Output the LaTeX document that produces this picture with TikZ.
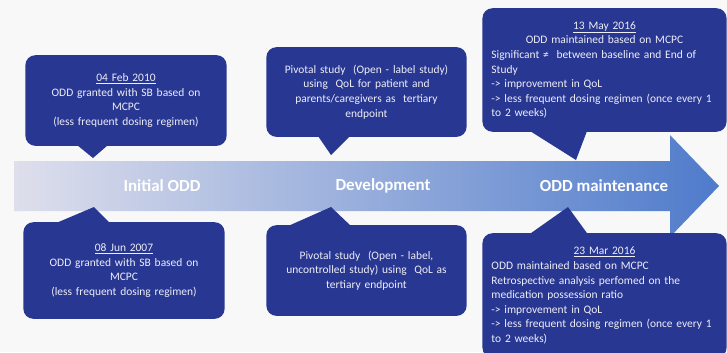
\documentclass[tikz,border=0pt]{standalone}
\usepackage{fontspec}
\setmainfont{Carlito}
\definecolor{pagebg}{HTML}{F8F8F8}
\definecolor{callblue}{HTML}{283792}
\definecolor{calltext}{HTML}{EEEEF6}
\definecolor{arrL}{HTML}{DEDFEC}
\definecolor{arrM}{HTML}{A7B1D8}
\definecolor{arrR}{HTML}{4F7BCB}
\begin{document}
\begin{tikzpicture}[x=1bp,y=-1bp,
  callout/.style={fill=callblue, rounded corners=10bp, text=calltext,
    font=\fontsize{11.5}{14.6}\selectfont, inner sep=0pt},
  tail/.style={fill=callblue},
  phase/.style={text=white, font=\fontsize{17}{20}\selectfont\bfseries}]
  % page
  \fill[pagebg] (0,0) rectangle (727,352);
  \useasboundingbox (0,0) rectangle (727,352);

  % timeline arrow
  \shade[left color=arrL, middle color=arrM, right color=arrR]
    (14,161) -- (670,161) -- (670,135) -- (719,186) -- (670,237)
    -- (670,211) -- (14,211) -- cycle;
  \node[phase] (initial) at (162,186) {Initial ODD};
  \node[phase] (develop) at (383,186) {Development};
  \node[phase] (maintain) at (604,186) {ODD maintenance};

  % callout tails
  \coordinate (t1) at (93,158);
  \coordinate (t2) at (331,155);
  \coordinate (t3) at (576,160);
  \coordinate (t4) at (94,207);
  \coordinate (t5) at (331,207);
  \coordinate (t6) at (568,207);
  \fill[tail] (77,145) -- (t1) -- (108,145) -- cycle;
  \fill[tail] (318,136) -- (t2) -- (350,136) -- cycle;
  \fill[tail] (530,131) -- (t3) -- (587,131) -- cycle;
  \fill[tail] (55,223.5) -- (t4) -- (110.5,223.5) -- cycle;
  \fill[tail] (287,226.5) -- (t5) -- (351.5,226.5) -- cycle;
  \fill[tail] (529,234.5) -- (t6) -- (588,234.5) -- cycle;

  % callouts above the arrow
  \node[callout, minimum width=202, minimum height=91, text width=190, align=center]
    (c1) at (126,100.5)
    {\underline{04 Feb 2010}\\ODD granted with SB based on\\MCPC\\(less frequent dosing regimen)};
  \node[callout, minimum width=201, minimum height=90, text width=190, align=center]
    (c2) at (366.5,92)
    {Pivotal study\ \ (Open - label study)\\using\ \ QoL for patient and\\parents/caregivers as\ \ tertiary\\endpoint};
  \node[callout, minimum width=245, minimum height=124, text width=227]
    (c3) at (604.5,70)
    {{\centering\underline{13 May 2016}\\ODD maintained based on MCPC\par}
     \raggedright Significant ≠\ \ between baseline and End of\\Study\\-> improvement in QoL\\-> less frequent dosing regimen (once every 1\\to 2 weeks)};

  % callouts below the arrow
  \node[callout, minimum width=202, minimum height=97, text width=190, align=center]
    (c4) at (124,270.5)
    {\underline{08 Jun 2007}\\ODD granted with SB based on\\MCPC\\(less frequent dosing regimen)};
  \node[callout, minimum width=201, minimum height=91, text width=190, align=center]
    (c5) at (366.5,270.5)
    {Pivotal study\ \ (Open - label,\\uncontrolled study) using\ \ QoL as\\tertiary endpoint};
  \node[callout, minimum width=245, minimum height=125, text width=227]
    (c6) at (604.5,295.5)
    {{\centering\underline{23 Mar 2016}\par}
     \raggedright ODD maintained based on MCPC\\Retrospective analysis perfomed on the\\medication possession ratio\\-> improvement in QoL\\-> less frequent dosing regimen (once every 1\\to 2 weeks)};
\end{tikzpicture}
\end{document}
